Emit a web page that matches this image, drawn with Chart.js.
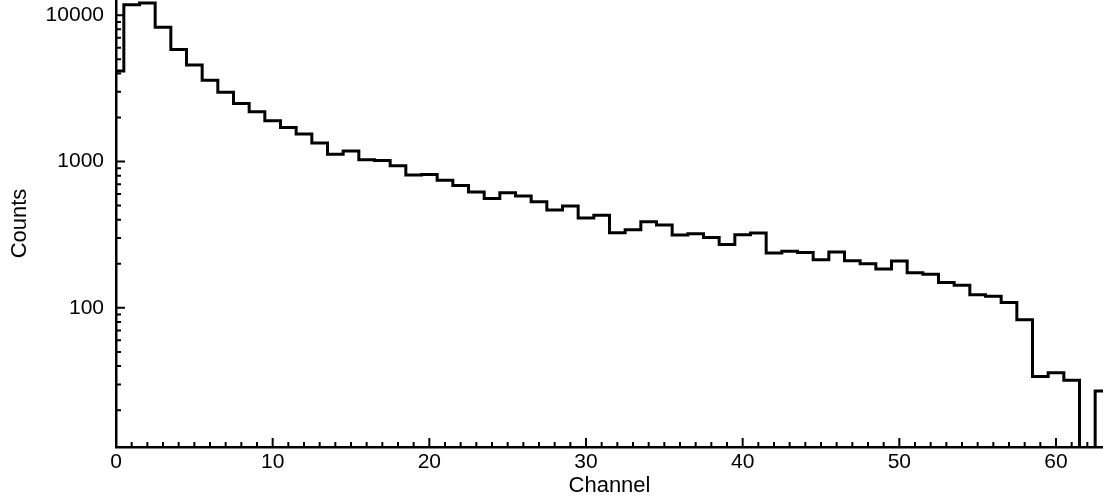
<!DOCTYPE html>
<html>
<head>
<meta charset="utf-8">
<script src="https://cdn.jsdelivr.net/npm/chart.js@4.4.1/dist/chart.umd.min.js"></script>
<style>
  body { margin: 0; background: #fff; }
  #wrap { width: 1103px; height: 503px; }
</style>
</head>
<body>
<div id="wrap"><canvas id="spectrum"></canvas></div>
<script>
// channel numbers (bin centres) and counts
const channels = [0, 1, 2, 3, 4, 5, 6, 7, 8, 9, 10, 11, 12, 13, 14, 15, 16, 17, 18, 19,
  20, 21, 22, 23, 24, 25, 26, 27, 28, 29, 30, 31, 32, 33, 34, 35, 36, 37, 38, 39,
  40, 41, 42, 43, 44, 45, 46, 47, 48, 49, 50, 51, 52, 53, 54, 55, 56, 57, 58, 59,
  60, 61, 62, 63];
const counts = [4150, 11800, 12100, 8280, 5820, 4570, 3590, 2970, 2490, 2190,
  1900, 1710, 1540, 1340, 1120, 1180, 1030, 1015, 935, 810,
  815, 745, 685, 620, 558, 613, 582, 532, 467, 496,
  412, 429, 326, 342, 388, 368, 315, 321, 303, 271,
  316, 325, 237, 244, 239, 213, 241, 210, 200, 184,
  209, 174, 170, 149, 143, 123, 120, 109, 83, 34,
  36, 32, 1, 27];

const xMajorTicks = [0, 10, 20, 30, 40, 50, 60];
const xMinorTicks = [1, 2, 3, 4, 5, 6, 7, 8, 9, 11, 12, 13, 14, 15, 16, 17, 18, 19,
  21, 22, 23, 24, 25, 26, 27, 28, 29, 31, 32, 33, 34, 35, 36, 37, 38, 39,
  41, 42, 43, 44, 45, 46, 47, 48, 49, 51, 52, 53, 54, 55, 56, 57, 58, 59, 61, 62];
const yMajorTicks = [100, 1000, 10000];
const yMinorTicks = [20, 30, 40, 50, 60, 70, 80, 90,
  200, 300, 400, 500, 600, 700, 800, 900,
  2000, 3000, 4000, 5000, 6000, 7000, 8000, 9000];

Chart.defaults.font.family = '"Liberation Sans", Arial, sans-serif';
Chart.defaults.font.size = 21;
Chart.defaults.color = '#000';

// inward tick marks, long for majors and short for minors
const innerTicks = {
  id: 'innerTicks',
  afterDraw(chart) {
    const ctx = chart.ctx;
    const xs = chart.scales.x, ys = chart.scales.y;
    const area = chart.chartArea;
    ctx.save();
    ctx.strokeStyle = '#000';
    ctx.lineWidth = 2;
    ctx.beginPath();
    const xTick = (v, len) => {
      const px = xs.getPixelForValue(v);
      ctx.moveTo(px, area.bottom);
      ctx.lineTo(px, area.bottom - len);
    };
    const yTick = (v, len) => {
      const py = ys.getPixelForValue(v);
      ctx.moveTo(area.left, py);
      ctx.lineTo(area.left + len, py);
    };
    xMajorTicks.forEach(v => xTick(v, 9));
    xMinorTicks.forEach(v => xTick(v, 5));
    yMajorTicks.forEach(v => yTick(v, 9));
    yMinorTicks.forEach(v => yTick(v, 5));
    ctx.stroke();
    ctx.restore();
  }
};

new Chart(document.getElementById('spectrum'), {
  type: 'line',
  data: {
    datasets: [{
      data: channels.map((c, i) => ({ x: c, y: counts[i] })),
      stepped: 'middle',
      borderColor: '#000',
      borderWidth: 3,
      pointRadius: 0,
      fill: false
    }]
  },
  options: {
    responsive: true,
    maintainAspectRatio: false,
    animation: false,
    events: [],
    plugins: { legend: { display: false }, tooltip: { enabled: false } },
    scales: {
      x: {
        type: 'linear',
        min: 0,
        max: 63,
        grid: { display: false, drawTicks: false },
        border: { display: true, color: '#000', width: 2.5 },
        afterBuildTicks: s => { s.ticks = xMajorTicks.map(v => ({ value: v })); },
        afterFit: s => { s.height = 56; s.paddingLeft = 0; s.paddingRight = 0; },
        ticks: { autoSkip: false, maxRotation: 0, minRotation: 0, padding: 3,
          callback: v => String(v) },
        title: { display: true, text: 'Channel', font: { size: 22 }, padding: { top: 0, bottom: 4 } }
      },
      y: {
        type: 'logarithmic',
        min: 11.2,
        max: 12700,
        grid: { display: false, drawTicks: false },
        border: { display: true, color: '#000', width: 2.5 },
        afterBuildTicks: s => { s.ticks = yMajorTicks.map(v => ({ value: v })); },
        afterFit: s => { s.width = 116; s.paddingTop = 0; s.paddingBottom = 0; },
        ticks: { autoSkip: false, padding: 12, callback: v => String(v) },
        title: { display: true, text: 'Counts', font: { size: 22 }, padding: { top: 7, bottom: 0 } }
      }
    }
  },
  plugins: [innerTicks]
});
</script>
</body>
</html>
